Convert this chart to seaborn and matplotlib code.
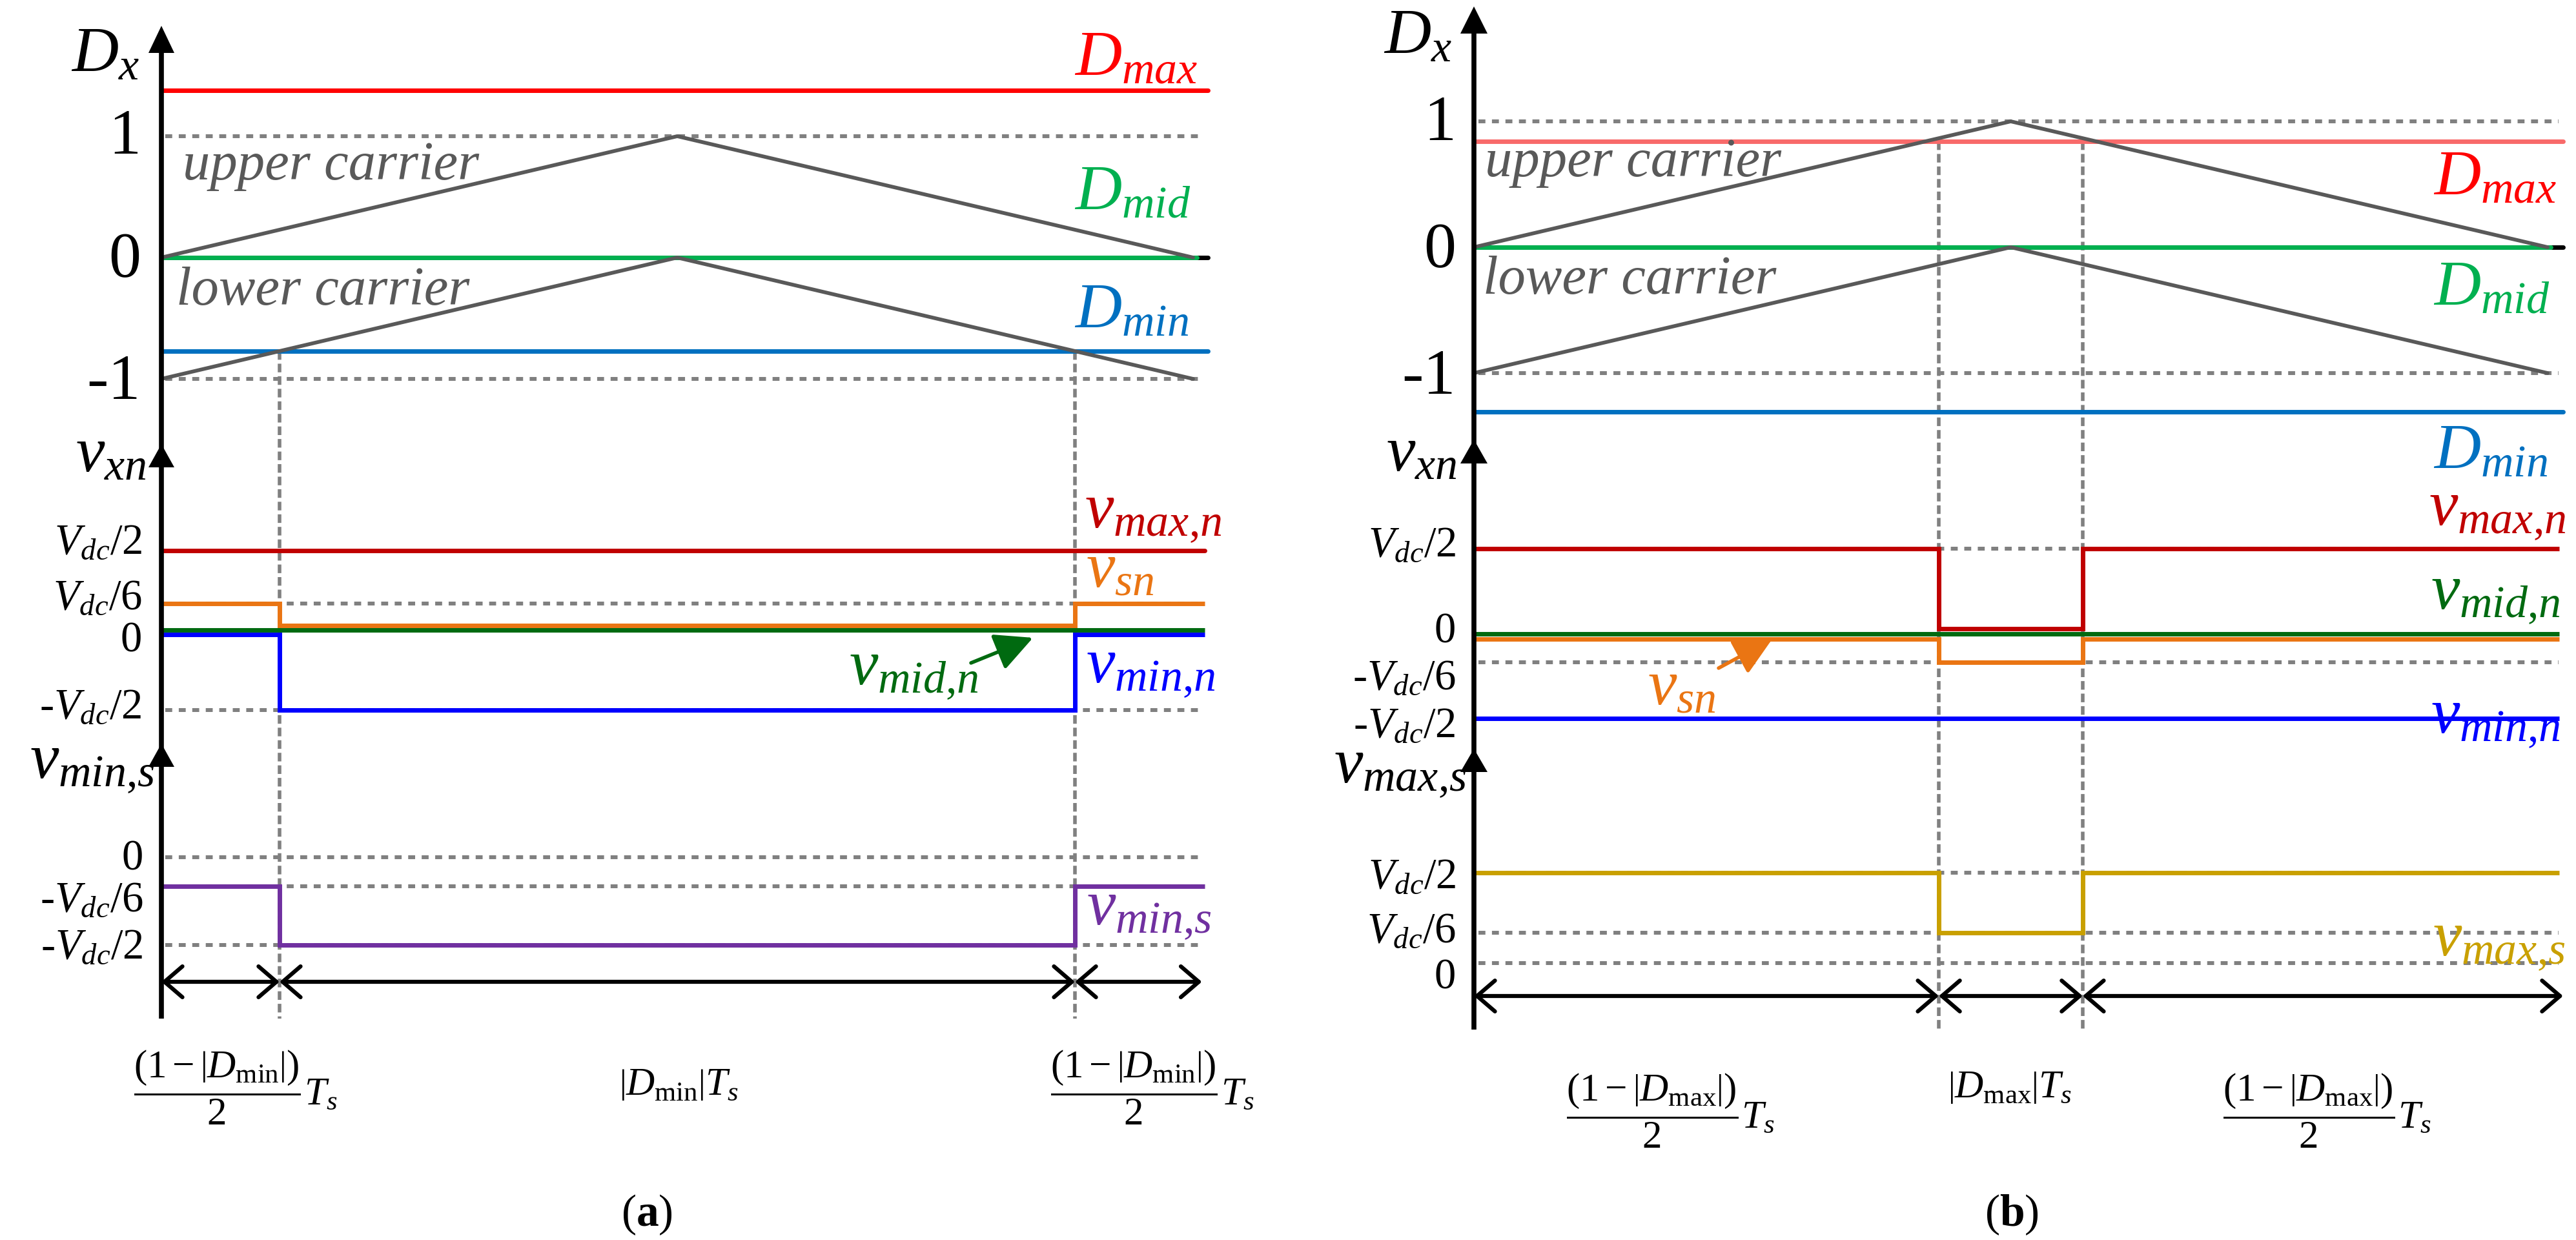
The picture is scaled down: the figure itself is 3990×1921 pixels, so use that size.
import matplotlib
matplotlib.use("Agg")
import matplotlib.pyplot as plt
import seaborn as sns
from matplotlib.patches import Polygon

sns.set_theme(style="white")
plt.rcParams["font.family"] = ["Liberation Serif", "DejaVu Serif"]
plt.rcParams["mathtext.fontset"] = "custom"
plt.rcParams["mathtext.rm"] = "Liberation Serif"
plt.rcParams["mathtext.it"] = "Liberation Serif:italic"
plt.rcParams["mathtext.bf"] = "Liberation Serif:bold"

# ---------------------------------------------------------------- data
carrier_t = [0.0, 0.5, 1.0]
upper_carrier = [0.0, 1.0, 0.0]
lower_carrier = [-1.0, 0.0, -1.0]

dx_ticks = [1, 0, -1]
dx_tick_labels = ["1", "0", "-1"]

# panel (a): interval start instants (t/Ts) and piecewise levels
a_switch = [0.0, 0.1145, 0.8855]
a_Dmax, a_Dmid, a_Dmin = 1.38, 0.0, -0.77
a_vmax_n = [0.5, 0.5, 0.5]
a_vsn = [0.167, 0.028, 0.167]
a_vmid_n = [0.0, 0.0, 0.0]
a_vmin_n = [-0.028, -0.5, -0.028]
a_vmin_s = [-0.167, -0.5, -0.167]
a_vxn_ticks = [0.5, 0.167, 0.0, -0.5]
a_vxn_labels = [r"$V_{dc}/2$", r"$V_{dc}/6$", "0", r"-$V_{dc}/2$"]
a_vxn_dotted = [0.167, -0.5]
a_vs_ticks = [0.0, -0.167, -0.5]
a_vs_labels = ["0", r"-$V_{dc}/6$", r"-$V_{dc}/2$"]

# panel (b)
b_switch = [0.0, 0.433, 0.567]
b_Dmax, b_Dmid, b_Dmin = 0.84, 0.0, -1.31
b_vmax_n = [0.5, 0.03, 0.5]
b_vsn = [-0.03, -0.167, -0.03]
b_vmid_n = [0.0, 0.0, 0.0]
b_vmin_n = [-0.5, -0.5, -0.5]
b_vmax_s = [0.5, 0.167, 0.5]
b_vxn_ticks = [0.5, 0.0, -0.167, -0.5]
b_vxn_labels = [r"$V_{dc}/2$", "0", r"-$V_{dc}/6$", r"-$V_{dc}/2$"]
b_vxn_dotted = [0.5, -0.167]
b_vs_ticks = [0.5, 0.167, 0.0]
b_vs_labels = [r"$V_{dc}/2$", r"$V_{dc}/6$", "0"]

# ---------------------------------------------------------------- style
C_DMAX = "#FF0000"
C_DMAX_B = "#F86A6A"
C_DMID = "#00B050"
C_DMIN = "#0070C0"
C_VMAX = "#C00000"
C_VSN = "#EA7513"
C_VMID = "#006A10"
C_VMIN = "#0000FF"
C_VMINS = "#7030A0"
C_VMAXS = "#C9A000"
C_CARR = "#595959"
C_DOT = "#808080"
LW_SIG = 5.0
LW_CARR = 4.2
LW_AX = 5.5
LW_DOT = 4.3
DOT = (0, (1.8, 1.7))
DASH = (0, (2.4, 1.1))
T_END = 1.0144
T_DOT = 1.01
T_SIG = 1.011

W, H = 3990, 1921
fig = plt.figure(figsize=(W / 100, H / 100), dpi=100)
fig.patch.set_facecolor("white")


def add_sub(x0, x1, top, bottom, zero_px, ppu):
    ax = fig.add_axes([x0 / W, 1 - bottom / H, (x1 - x0) / W, (bottom - top) / H])
    ax.set_xlim(0, 1)
    ax.set_ylim((zero_px - bottom) / ppu, (zero_px - top) / ppu)
    ax.patch.set_alpha(0)
    for s in ax.spines.values():
        s.set_visible(False)
    ax.set_xticks([])
    ax.set_yticks([])
    ax.grid(False)
    ax._map = (zero_px, ppu)
    return ax


def pv(ax, px):
    z, p = ax._map
    return (z - px) / p


def level(ax, y, color, lw=LW_SIG, end=T_END, z=3):
    sns.lineplot(x=[0.0, end], y=[y, y], ax=ax, color=color, lw=lw,
                 clip_on=False, zorder=z, estimator=None, sort=False)


def steps(ax, sw, vals, color, end=T_SIG, z=3):
    xs = list(sw) + [end]
    ys = list(vals) + [vals[-1]]
    sns.lineplot(x=xs, y=ys, ax=ax, color=color, lw=LW_SIG, drawstyle="steps-post",
                 clip_on=False, zorder=z, estimator=None, sort=False,
                 solid_joinstyle="miter", solid_capstyle="butt")


def dotted(ax, ys, end=T_DOT):
    for y in ys:
        ax.plot([0.004, end], [y, y], color=C_DOT, lw=LW_DOT, ls=DOT,
                clip_on=False, zorder=1)


def carriers(ax):
    for yy in (upper_carrier, lower_carrier):
        sns.lineplot(x=carrier_t, y=yy, ax=ax, color=C_CARR, lw=LW_CARR,
                     clip_on=False, zorder=5, estimator=None, sort=False)


def brackets(ax, sw, ypx, end):
    y = pv(ax, ypx)
    pts = list(sw) + [end]
    for a, b in zip(pts[:-1], pts[1:]):
        ax.annotate("", xy=(b, y), xytext=(a, y), annotation_clip=False,
                    arrowprops=dict(arrowstyle="<->,head_length=0.5,head_width=0.43",
                                    mutation_scale=40, lw=4.5, color="black",
                                    shrinkA=0, shrinkB=0))


# ================================================================ panel (a)
a1 = add_sub(250, 1848, 80, 640, 399, 188)
a2 = add_sub(250, 1848, 640, 1120, 976, 247)
a3 = add_sub(250, 1848, 1120, 1600, 1328, 272)

dotted(a1, [1, -1])
level(a1, 0.0, "black", lw=LW_SIG, end=T_END, z=2)
level(a1, a_Dmax, C_DMAX)
level(a1, a_Dmid, C_DMID, end=1.004)
level(a1, a_Dmin, C_DMIN)
carriers(a1)

dotted(a2, a_vxn_dotted)
level(a2, a_vmax_n[0], C_VMAX, end=T_SIG)
steps(a2, a_switch, a_vsn, C_VSN)
steps(a2, a_switch, a_vmid_n, C_VMID)
steps(a2, a_switch, a_vmin_n, C_VMIN)

dotted(a3, a_vs_ticks)
steps(a3, a_switch, a_vmin_s, C_VMINS)

for t in a_switch[1:]:
    a1.plot([t, t], [a_Dmin, pv(a1, 1578)], color=C_DOT, lw=4.0, ls=DASH,
            clip_on=False, zorder=0)
brackets(a3, a_switch, 1521, 1.0085)

# ================================================================ panel (b)
b1 = add_sub(2283, 3946, 52, 665, 383, 195)
b2 = add_sub(2283, 3946, 665, 1150, 982, 263)
b3 = add_sub(2283, 3946, 1150, 1620, 1492, 280)

dotted(b1, [1, -1])
level(b1, 0.0, "black", lw=LW_SIG, end=T_END, z=2)
level(b1, b_Dmax, C_DMAX_B)
level(b1, b_Dmid, C_DMID, end=1.003)
level(b1, b_Dmin, C_DMIN)
carriers(b1)

dotted(b2, b_vxn_dotted)
steps(b2, b_switch, b_vsn, C_VSN)
steps(b2, b_switch, b_vmid_n, C_VMID)
steps(b2, b_switch, b_vmax_n, C_VMAX)
steps(b2, b_switch, b_vmin_n, C_VMIN)

dotted(b3, b_vs_ticks)
steps(b3, b_switch, b_vmax_s, C_VMAXS)

for t in b_switch[1:]:
    b1.plot([t, t], [b_Dmax, pv(b1, 1595)], color=C_DOT, lw=4.0, ls=DASH,
            clip_on=False, zorder=0)
brackets(b3, b_switch, 1543, 1.0144)

# ================================================================ overlay (axes, labels)
ov = fig.add_axes([0, 0, 1, 1], zorder=10)
ov.set_xlim(0, W)
ov.set_ylim(H, 0)
ov.axis("off")
ov.patch.set_alpha(0)


def vaxis(x, top, bottom, heads, hw):
    ov.plot([x, x], [top + 20, bottom], color="black", lw=LW_AX, solid_capstyle="butt")
    for tip, base in heads:
        ov.add_patch(Polygon([[x - hw, base], [x + hw, base], [x, tip]],
                             closed=True, facecolor="black", edgecolor="none"))


vaxis(250, 40, 1578, [(40, 82), (688, 724), (1152, 1188)], 20)
vaxis(2283, 10, 1595, [(10, 52), (681, 718), (1160, 1196)], 21)


def txt(x, y, s, fs, color="black", ha="left", va="baseline", **kw):
    ov.text(x, y, s, fontsize=fs, color=color, ha=ha, va=va, **kw)


# tick labels (right-aligned next to the vertical axes)
def tick_labels(x, labels, baselines, fs):
    for lab, yb in zip(labels, baselines):
        txt(x, yb, lab, fs, ha="right")


tick_labels(218, dx_tick_labels, [238, 428, 618], 72)
tick_labels(220, a_vxn_labels, [858, 944, 1010, 1113], 48)
tick_labels(222, a_vs_labels, [1348, 1412, 1485], 48)
tick_labels(2255, dx_tick_labels, [217, 413, 610], 72)
tick_labels(2255, b_vxn_labels, [862, 996, 1068, 1142], 48)
tick_labels(2255, b_vs_labels, [1376, 1460, 1532], 48)

# axis names
txt(110, 110, r"$D_x$", 72)
txt(117, 730, r"$v_{xn}$", 72)
txt(46, 1205, r"$v_{min{,}s}$", 72)
txt(2143, 82, r"$D_x$", 72)
txt(2147, 729, r"$v_{xn}$", 72)
txt(2272, 1212, r"$v_{max{,}s}$", 72, ha="right")

# carrier names
txt(283, 278, "upper carrier", 61, color=C_CARR, style="italic")
txt(273, 472, "lower carrier", 61, color=C_CARR, style="italic")
txt(2300, 273, "upper carrier", 61, color=C_CARR, style="italic")
txt(2297, 455, "lower carrier", 61, color=C_CARR, style="italic")

# signal names (a)
txt(1664, 117, r"$D_{max}$", 72, C_DMAX)
txt(1664, 325, r"$D_{mid}$", 72, C_DMID)
txt(1664, 507, r"$D_{min}$", 72, C_DMIN)
txt(1680, 817, r"$v_{max{,}n}$", 72, C_VMAX)
txt(1682, 910, r"$v_{sn}$", 72, C_VSN)
txt(1682, 1057, r"$v_{min{,}n}$", 72, C_VMIN)
txt(1315, 1060, r"$v_{mid{,}n}$", 72, C_VMID)
txt(1683, 1432, r"$v_{min{,}s}$", 72, C_VMINS)
ov.annotate("", xy=(1600, 988), xytext=(1504, 1027),
            arrowprops=dict(arrowstyle="-|>,head_length=0.9,head_width=0.45",
                            mutation_scale=40, lw=4, color=C_VMID,
                            shrinkA=0, shrinkB=0))

# signal names (b)
txt(3769, 302, r"$D_{max}$", 72, C_DMAX)
txt(3769, 473, r"$D_{mid}$", 72, C_DMID)
txt(3769, 725, r"$D_{min}$", 72, C_DMIN)
txt(3762, 813, r"$v_{max{,}n}$", 72, C_VMAX)
txt(3765, 943, r"$v_{mid{,}n}$", 72, C_VMID)
txt(3765, 1135, r"$v_{min{,}n}$", 72, C_VMIN)
txt(2552, 1092, r"$v_{sn}$", 72, C_VSN)
ov.annotate("", xy=(2745, 990), xytext=(2662, 1035),
            arrowprops=dict(arrowstyle="-|>,head_length=0.9,head_width=0.45",
                            mutation_scale=40, lw=4, color=C_VSN,
                            shrinkA=0, shrinkB=0))
txt(3768, 1480, r"$v_{max{,}s}$", 72, C_VMAXS)

# interval formulas
frac_a = r"$\dfrac{(1-\left|D_{\mathrm{min}}\right|)}{2}T_s$"
frac_b = r"$\dfrac{(1-\left|D_{\mathrm{max}}\right|)}{2}T_s$"
FS_F = 44
txt(365, 1685, frac_a, FS_F, ha="center", va="center")
txt(1051, 1682, r"$\left|D_{\mathrm{min}}\right|T_s$", FS_F, ha="center", va="center")
txt(1785, 1685, frac_a, FS_F, ha="center", va="center")
txt(2588, 1721, frac_b, FS_F, ha="center", va="center")
txt(3113, 1686, r"$\left|D_{\mathrm{max}}\right|T_s$", FS_F, ha="center", va="center")
txt(3605, 1721, frac_b, FS_F, ha="center", va="center")

# captions
txt(1002, 1882, r"$(\mathbf{a})$", 50, ha="center", va="center")
txt(3116, 1882, r"$(\mathbf{b})$", 50, ha="center", va="center")

fig.savefig("out.png", dpi=100, facecolor="white")
